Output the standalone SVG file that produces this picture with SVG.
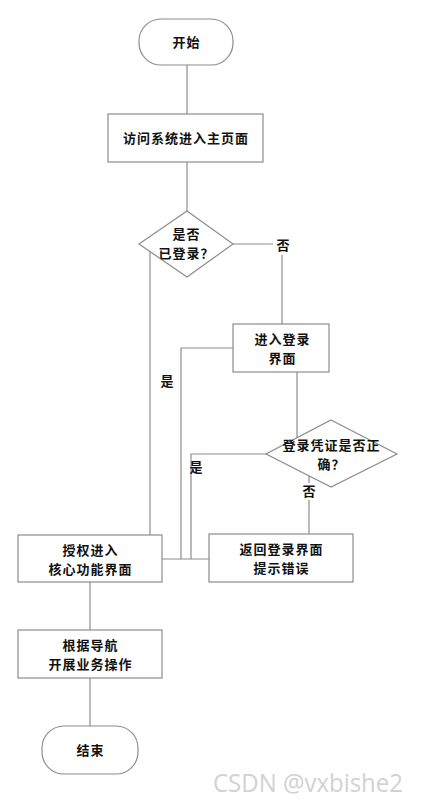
<svg xmlns="http://www.w3.org/2000/svg" width="421" height="802" viewBox="0 0 421 802">
<style>
.shape{fill:#ffffff;stroke:#8c8c8c;stroke-width:1.2}
.ln{fill:none;stroke:#8c8c8c;stroke-width:1.2}
.t{font-family:"Noto Sans CJK SC","Noto Sans",sans-serif;font-size:13px;letter-spacing:1px;font-weight:bold;fill:#111111;text-anchor:middle}
.wm{font-family:"Open Sans","Noto Sans",sans-serif;font-size:25px;fill:#d2d2d2}
</style>
<rect width="421" height="802" fill="#ffffff"/>
<g id="connectors">
<line class="ln" x1="187" y1="65" x2="187" y2="114"/>
<line class="ln" x1="187" y1="162" x2="187" y2="211"/>
<polyline class="ln" points="233,244 273,244"/>
<line class="ln" x1="282" y1="255" x2="282" y2="324"/>
<line class="ln" x1="150" y1="252" x2="150" y2="535"/>
<polyline class="ln" points="233,348 181,348 181,559"/>
<line class="ln" x1="297" y1="372" x2="297" y2="438"/>
<polyline class="ln" points="266,454 191,454 191,559"/>
<line class="ln" x1="309" y1="476" x2="309" y2="483"/>
<line class="ln" x1="309" y1="500" x2="309" y2="534"/>
<line class="ln" x1="162" y1="559" x2="209" y2="559"/>
<line class="ln" x1="90" y1="582" x2="90" y2="630"/>
<line class="ln" x1="90" y1="678" x2="90" y2="726"/>
<text class="t" x="283.5" y="250">否</text>
<text class="t" x="167.5" y="386">是</text>
<text class="t" x="196.5" y="472">是</text>
<text class="t" x="309.5" y="496">否</text>
</g>
<g id="start">
<rect class="shape" x="139" y="19" width="94" height="46" rx="22" ry="22"/>
<text class="t" x="186.5" y="47">开始</text>
</g>
<g id="visit">
<rect class="shape" x="108" y="114" width="155" height="48"/>
<text class="t" x="186" y="143">访问系统进入主页面</text>
</g>
<g id="logged">
<polygon class="shape" points="187,211 233,244 187,277 139,244"/>
<text class="t" x="186.5" y="239">是否</text>
<text class="t" x="186.5" y="258">已登录？</text>
</g>
<g id="loginpage">
<rect class="shape" x="233" y="324" width="96" height="48"/>
<text class="t" x="282.5" y="344">进入登录</text>
<text class="t" x="282.5" y="363">界面</text>
</g>
<g id="credcheck">
<polygon class="shape" points="331,420 397,454 331,487 266,454"/>
<text class="t" x="331.5" y="450">登录凭证是否正</text>
<text class="t" x="331.5" y="469">确？</text>
</g>
<g id="error">
<rect class="shape" x="209" y="534" width="144" height="48"/>
<text class="t" x="281.5" y="554">返回登录界面</text>
<text class="t" x="281.5" y="573">提示错误</text>
</g>
<g id="core">
<rect class="shape" x="18" y="535" width="144" height="47"/>
<text class="t" x="90.5" y="555">授权进入</text>
<text class="t" x="90.5" y="574">核心功能界面</text>
</g>
<g id="business">
<rect class="shape" x="18" y="630" width="144" height="48"/>
<text class="t" x="90.5" y="650">根据导航</text>
<text class="t" x="90.5" y="669">开展业务操作</text>
</g>
<g id="end">
<rect class="shape" x="42" y="726" width="96" height="48" rx="22" ry="22"/>
<text class="t" x="90.5" y="755">结束</text>
</g>
<text class="wm" x="213" y="792" textLength="190" lengthAdjust="spacingAndGlyphs">CSDN @vxbishe2</text>
</svg>
